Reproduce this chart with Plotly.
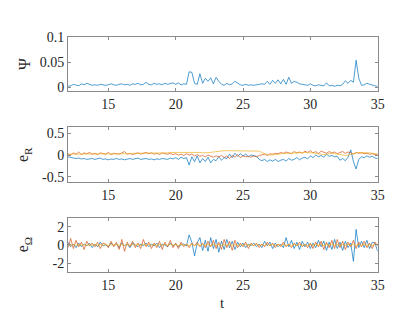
import plotly.graph_objects as go

# time grid (sample step 0.2 s)
t = [round(12 + 0.2 * i, 1) for i in range(116)]

psi = [0.002,0.003,0.006,0.004,0.003,0.007,0.005,0.008,0.006,0.004,
       0.005,0.004,0.006,0.005,0.004,0.005,0.007,0.005,0.004,0.006,
       0.007,0.005,0.006,0.004,0.007,0.006,0.008,0.005,0.006,0.010,
       0.006,0.005,0.008,0.006,0.007,0.005,0.008,0.006,0.007,0.009,
       0.006,0.009,0.005,0.007,0.006,0.031,0.030,0.008,0.006,0.027,
       0.008,0.018,0.012,0.019,0.007,0.020,0.012,0.006,0.004,0.008,
       0.005,0.007,0.012,0.008,0.005,0.004,0.006,0.004,0.005,0.004,
       0.005,0.006,0.007,0.006,0.012,0.006,0.014,0.008,0.015,0.007,
       0.016,0.006,0.020,0.008,0.012,0.010,0.007,0.006,0.005,0.004,
       0.007,0.004,0.003,0.005,0.004,0.003,0.009,0.003,0.004,0.002,
       0.004,0.003,0.006,0.013,0.008,0.014,0.010,0.054,0.018,0.004,
       0.005,0.008,0.006,0.004,0.003,0.002]

eR_1 = [-0.04,-0.05,-0.06,-0.08,-0.07,-0.09,-0.08,-0.10,-0.09,-0.08,
        -0.10,-0.09,-0.07,-0.10,-0.09,-0.11,-0.09,-0.10,-0.08,-0.10,
        -0.09,-0.11,-0.10,-0.08,-0.10,-0.09,-0.07,-0.10,-0.09,-0.08,
        -0.10,-0.09,-0.11,-0.09,-0.10,-0.08,-0.09,-0.10,-0.07,-0.09,
        -0.06,-0.10,-0.05,-0.08,-0.06,-0.23,-0.04,-0.15,-0.02,-0.18,
        -0.08,-0.15,-0.05,-0.18,-0.10,-0.13,-0.04,-0.12,-0.06,-0.08,
        0.02,-0.06,0.04,-0.03,0.03,-0.02,0.02,-0.04,0.00,-0.02,
        -0.03,-0.10,-0.13,-0.10,-0.15,-0.11,-0.14,-0.10,-0.15,-0.12,
        -0.10,-0.14,-0.08,-0.12,-0.10,-0.06,-0.11,-0.07,-0.05,-0.09,
        -0.02,-0.06,0.00,-0.04,-0.01,-0.05,0.02,-0.03,-0.01,-0.04,
        -0.03,-0.12,-0.08,-0.13,-0.05,0.12,-0.15,-0.32,-0.10,-0.04,
        -0.06,-0.02,-0.05,-0.03,-0.07,-0.08]

eR_2 = [0.03,0.00,0.05,0.02,0.07,0.01,0.05,0.03,0.06,0.02,
        0.04,0.01,0.05,0.03,0.02,0.06,0.01,0.04,0.03,0.02,
        0.05,0.08,0.02,0.04,0.01,0.03,0.05,0.02,0.04,0.06,
        0.03,0.05,0.02,0.04,0.01,0.05,0.03,0.02,0.04,0.01,
        0.03,0.00,0.02,-0.01,0.03,0.00,0.02,-0.02,0.01,-0.03,
        -0.01,-0.04,0.00,-0.03,-0.05,-0.02,-0.04,-0.01,-0.06,-0.02,
        -0.08,-0.01,-0.05,0.01,-0.06,-0.02,-0.04,-0.03,-0.05,-0.02,
        -0.04,-0.01,0.00,0.02,-0.01,0.03,0.02,0.04,0.03,0.06,
        0.04,0.07,0.05,0.03,0.08,0.05,0.07,0.04,0.09,0.06,
        0.10,0.05,0.08,0.03,0.09,0.06,0.04,0.08,0.05,0.07,
        0.03,0.06,0.08,0.04,0.07,0.05,0.02,0.06,0.04,0.05,
        0.03,0.04,0.02,0.03,0.01,0.02]

eR_3 = [0.02,0.02,0.03,0.03,0.03,0.03,0.03,0.03,0.03,0.03,
        0.03,0.03,0.03,0.02,0.02,0.02,0.03,0.03,0.03,0.03,
        0.03,0.03,0.03,0.03,0.04,0.04,0.05,0.05,0.05,0.05,
        0.04,0.04,0.04,0.04,0.05,0.05,0.05,0.05,0.06,0.06,
        0.06,0.06,0.06,0.06,0.06,0.06,0.07,0.07,0.07,0.06,
        0.05,0.05,0.05,0.06,0.07,0.08,0.09,0.10,0.10,0.10,
        0.10,0.10,0.10,0.10,0.10,0.10,0.10,0.10,0.10,0.10,
        0.10,0.09,0.06,0.03,0.01,0.00,0.00,0.01,0.02,0.03,
        0.03,0.04,0.04,0.04,0.05,0.05,0.05,0.06,0.06,0.06,
        0.06,0.05,0.04,0.03,0.02,0.01,0.02,0.03,0.04,0.03,
        0.02,0.01,0.00,-0.01,0.00,0.02,0.04,0.05,0.06,0.06,
        0.06,0.06,0.05,0.04,0.03,0.02]

eW_1 = [0.3,-0.2,0.1,-0.3,0.2,-0.2,0.1,-0.1,0.2,-0.3,
        0.1,-0.2,0.3,-0.1,0.0,-0.2,0.2,-0.1,0.1,-0.3,
        0.2,-0.1,0.1,-0.3,0.2,0.0,-0.2,0.1,-0.1,0.2,
        -0.2,0.1,-0.1,0.2,-0.3,0.1,0.0,-0.2,0.2,-0.1,
        0.1,-0.2,0.0,0.1,-0.1,1.1,0.3,-1.2,0.2,0.8,
        -0.6,0.5,-0.7,0.8,-0.4,0.6,-0.8,0.4,-0.5,0.6,
        -0.3,0.4,-0.5,0.3,-0.2,0.2,-0.3,0.1,-0.1,0.2,
        -0.2,0.1,-0.3,0.4,-0.1,0.3,-0.4,0.2,-0.2,0.1,
        -0.3,0.8,-0.2,0.5,-0.4,0.3,-0.5,0.4,-0.2,0.3,
        -0.4,0.2,-0.3,0.5,-0.2,0.4,-0.6,0.3,-0.5,0.6,
        -0.4,0.3,-0.6,0.4,-0.3,0.2,-1.8,1.7,-0.3,0.4,
        -0.3,0.5,-0.4,0.3,0.2,-0.7]

eW_2 = [-0.3,0.7,-0.4,0.5,-0.2,0.3,-0.5,0.4,-0.1,0.2,
        -0.2,0.3,-0.4,0.2,0.1,-0.3,0.4,-0.2,0.3,-0.5,
        0.6,-0.7,0.3,-0.2,0.4,-0.3,0.2,-0.4,0.6,-0.2,
        0.3,-0.4,0.2,-0.3,0.4,-0.5,0.3,-0.2,0.5,-0.3,
        0.2,-0.4,0.3,-0.2,0.1,-0.3,0.2,-0.1,0.3,-0.2,
        0.2,-0.3,0.4,-0.2,0.5,-0.4,0.3,-0.5,0.6,-0.3,
        0.4,-0.6,0.5,-0.3,0.2,-0.2,0.3,-0.4,0.2,-0.1,
        0.2,-0.3,0.1,-0.2,0.3,-0.1,0.2,-0.3,0.1,-0.2,
        0.3,-0.2,0.1,-0.3,0.2,-0.1,0.3,-0.2,0.1,-0.3,
        0.2,-0.4,0.3,-0.2,0.4,-0.5,0.3,-0.3,0.5,-0.4,
        0.6,-0.3,0.4,-0.5,0.3,-0.2,0.5,-0.4,0.3,-0.2,
        0.4,-0.3,0.2,-0.4,0.3,-0.1]

eW_3 = [0.05,-0.08,0.06,-0.05,0.08,-0.06,0.04,-0.07,0.05,-0.04,
        0.06,-0.05,0.07,-0.06,0.04,-0.08,0.05,-0.04,0.06,-0.05,
        0.04,-0.06,0.08,-0.05,0.06,-0.04,0.05,-0.07,0.06,-0.05,
        0.07,-0.04,0.05,-0.06,0.04,-0.05,0.08,-0.06,0.05,-0.04,
        0.06,-0.07,0.05,-0.04,0.06,-0.08,0.09,-0.06,0.05,-0.07,
        0.08,-0.05,0.06,-0.09,0.07,-0.05,0.06,-0.08,0.05,-0.06,
        0.07,-0.05,0.04,-0.06,0.05,-0.04,0.06,-0.05,0.04,-0.06,
        0.05,-0.04,0.06,-0.05,0.07,-0.06,0.05,-0.04,0.06,-0.05,
        0.04,-0.06,0.05,-0.07,0.06,-0.04,0.05,-0.06,0.04,-0.05,
        0.06,-0.05,0.07,-0.04,0.05,-0.08,0.06,-0.05,0.07,-0.06,
        0.05,-0.07,0.06,-0.05,0.08,-0.09,0.07,-0.06,0.05,-0.04,
        0.06,-0.05,0.04,-0.06,0.05,-0.03]

x_ticks = [15, 20, 25, 30, 35]
psi_ticks = [0, 0.05, 0.1]
psi_ticktext = ["0", "0.05", "0.1"]
eR_ticks = [-0.5, 0, 0.5]
eR_ticktext = ["-0.5", "0", "0.5"]
eW_ticks = [-2, 0, 2]
eW_ticktext = ["-2", "0", "2"]

BLUE, RED, YEL = "#0072BD", "#D95319", "#EDB120"
W, H = 415, 311
FONT = "Liberation Serif"
AX = "#262626"
BOX = "#8a8a8a"
LW = 0.7

fig = go.Figure()
fig.add_trace(go.Scatter(x=t, y=psi, mode="lines", line=dict(color=BLUE, width=LW), xaxis="x", yaxis="y"))
for ys, c in [(eR_1, BLUE), (eR_2, RED), (eR_3, YEL)]:
    fig.add_trace(go.Scatter(x=t, y=ys, mode="lines", line=dict(color=c, width=LW), xaxis="x2", yaxis="y2"))
for ys, c in [(eW_1, BLUE), (eW_2, RED), (eW_3, YEL)]:
    fig.add_trace(go.Scatter(x=t, y=ys, mode="lines", line=dict(color=c, width=LW), xaxis="x3", yaxis="y3"))

xl, xr = 61 / W, 376 / W
def ydom(top, bot):
    return [1 - bot / H, 1 - top / H]

common_x = dict(range=[12, 35], tickvals=x_ticks, ticks="inside", ticklen=3, tickcolor=BOX,
                showline=True, linecolor=BOX, linewidth=1, mirror="allticks", showgrid=False,
                zeroline=False, domain=[xl, xr], tickfont=dict(family=FONT, size=14, color=AX))
common_y = dict(ticks="inside", ticklen=3, tickcolor=BOX, showline=True, linecolor=BOX, linewidth=1,
                mirror="allticks", showgrid=False, zeroline=False, tickfont=dict(family=FONT, size=14, color=AX))

fig.update_layout(
    width=W, height=H, margin=dict(l=0, r=0, t=0, b=0),
    paper_bgcolor="white", plot_bgcolor="white", showlegend=False,
    font=dict(family=FONT, color=AX),
    xaxis=dict(common_x, anchor="y"),
    xaxis2=dict(common_x, anchor="y2"),
    xaxis3=dict(common_x, anchor="y3"),
    yaxis=dict(common_y, anchor="x", domain=ydom(23, 79.3), range=[-0.0083, 0.1],
               tickvals=psi_ticks, ticktext=psi_ticktext),
    yaxis2=dict(common_y, anchor="x2", domain=ydom(115.7, 173.3), range=[-0.625, 0.655],
                tickvals=eR_ticks, ticktext=eR_ticktext),
    yaxis3=dict(common_y, anchor="x3", domain=ydom(210, 266.7), range=[-3, 3],
                tickvals=eW_ticks, ticktext=eW_ticktext),
)

ann_font = dict(family=FONT, size=16, color=AX)
for text, yc in [("Ψ", 51), ("e<sub>R</sub>", 144.5), ("e<sub>Ω</sub>", 238)]:
    fig.add_annotation(text=text, xref="paper", yref="paper", x=16 / W, y=1 - yc / H,
                       textangle=-90, showarrow=False, font=ann_font, xanchor="center", yanchor="middle")
fig.add_annotation(text="t", xref="paper", yref="paper", x=218.5 / W, y=1 - 299 / H,
                   showarrow=False, font=dict(family=FONT, size=15, color=AX),
                   xanchor="center", yanchor="middle")

fig.write_html("out.html")
